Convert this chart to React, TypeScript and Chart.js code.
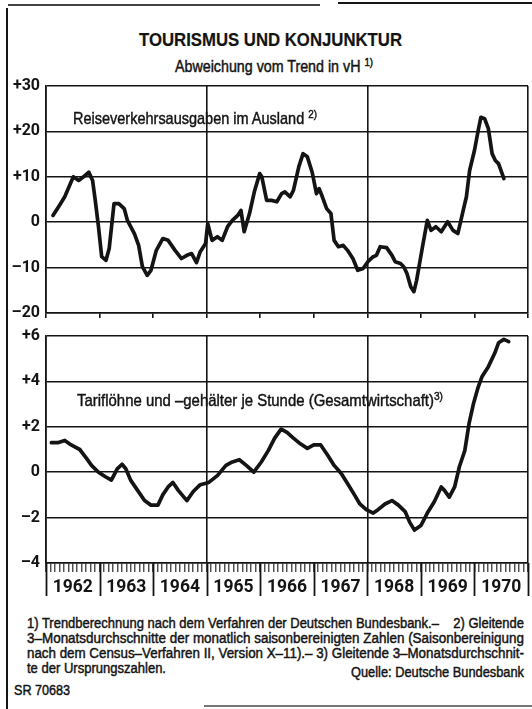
import React, { useEffect, useLayoutEffect, useRef } from "react";
import { Chart, registerables } from "chart.js";
Chart.register(...registerables);

// Reiseverkehrsausgaben im Ausland (Abweichung vom Trend in vH)
const spendingYears = [1962.13,1962.25,1962.35,1962.51,1962.61,1962.70,1962.80,1962.87,1962.92,1962.98,
  1963.04,1963.12,1963.18,1963.27,1963.36,1963.46,1963.52,1963.65,1963.73,1963.80,1963.89,1963.96,
  1964.06,1964.18,1964.28,1964.41,1964.53,1964.63,1964.72,1964.81,1964.88,1964.98,
  1965.02,1965.10,1965.20,1965.29,1965.39,1965.48,1965.58,1965.64,1965.70,1965.80,1965.89,1965.99,
  1966.03,1966.12,1966.21,1966.31,1966.40,1966.46,1966.56,1966.62,1966.72,1966.80,1966.88,1966.97,
  1967.05,1967.10,1967.16,1967.24,1967.32,1967.38,1967.46,1967.55,1967.63,1967.73,1967.82,1967.92,
  1968.01,1968.11,1968.17,1968.24,1968.36,1968.46,1968.52,1968.62,1968.68,1968.74,1968.81,1968.87,1968.92,
  1969.03,1969.12,1969.19,1969.28,1969.38,1969.50,1969.60,1969.69,1969.79,1969.85,1969.91,
  1970.00,1970.07,1970.12,1970.19,1970.26,1970.33,1970.39,1970.45,1970.55];
const spendingValues = [1.5,3.7,5.6,10.0,9.2,10,11,9.2,4.8,-1,
  -7.6,-8.4,-5.8,4.1,4.1,3,0.4,-2.5,-5.1,-9.8,-11.7,-10.6,
  -6.2,-3.6,-4,-6.2,-8,-7.3,-6.9,-8.9,-6.5,-4.7,
  -0.3,-4,-3.2,-4,-1,0.4,1.5,2.6,-2.1,1.9,6.7,10.7,
  10,4.8,4.8,4.5,6.3,6.7,5.6,7,12.2,15.1,14.4,11,
  6.3,7.4,5.6,3,1.9,-4,-5.4,-5.1,-6.2,-8,-10.6,-10.2,
  -8.7,-7.6,-7.3,-5.4,-5.6,-7.3,-8.7,-9.1,-9.8,-11.3,-14.2,-15.3,-12.8,
  -5.4,0.4,-1.8,-1,-2.1,0.1,-1.8,-2.5,2.6,5.6,11.4,
  15.8,20.2,23.1,22.8,20.6,15.1,13.6,12.9,9.6];

// Tariflöhne und -gehälter je Stunde (Gesamtwirtschaft)
const wageYears = [1962.10,1962.22,1962.35,1962.47,1962.63,1962.76,1962.85,1962.98,
  1963.11,1963.22,1963.33,1963.42,1963.49,1963.58,1963.71,1963.84,1963.96,
  1964.09,1964.18,1964.28,1964.37,1964.47,1964.63,1964.75,1964.88,
  1965.04,1965.20,1965.36,1965.48,1965.61,1965.74,1965.88,
  1966.02,1966.15,1966.27,1966.39,1966.50,1966.62,1966.75,1966.88,
  1967.00,1967.13,1967.26,1967.38,1967.51,1967.63,1967.76,1967.86,1967.98,
  1968.11,1968.20,1968.33,1968.46,1968.58,1968.71,1968.79,1968.88,
  1969.00,1969.12,1969.25,1969.38,1969.44,1969.53,1969.63,1969.72,1969.82,1969.90,1969.98,
  1970.07,1970.14,1970.26,1970.38,1970.45,1970.55,1970.64];
const wageValues = [1.3,1.3,1.4,1.2,1.0,0.6,0.3,0.0,
  -0.2,-0.35,0.15,0.35,0.15,-0.35,-0.8,-1.25,-1.45,
  -1.45,-1.0,-0.65,-0.45,-0.8,-1.25,-0.85,-0.55,
  -0.45,-0.15,0.3,0.45,0.55,0.3,0.0,
  0.45,0.95,1.5,1.9,1.75,1.5,1.25,1.05,
  1.2,1.2,0.75,0.3,-0.05,-0.5,-1.0,-1.4,-1.65,
  -1.8,-1.65,-1.4,-1.25,-1.45,-1.75,-2.2,-2.55,
  -2.35,-1.8,-1.3,-0.65,-0.8,-1.1,-0.65,0.25,0.95,2.15,3.0,
  3.75,4.2,4.65,5.25,5.7,5.85,5.75];

const yearLabels = ["1962","1963","1964","1965","1966","1967","1968","1969","1970"];
const yearBounds = [1962,1963,1964,1965,1966,1967,1968,1969,1970,1971];
const verticalGridYears = [1962,1965,1968,1971];
const topTicks = [-20,-10,0,10,20,30];
const bottomTicks = [-4,-2,0,2,4,6];

const INK = "#141414";
const TICKFONT = 'Roboto, "DejaVu Sans Condensed", sans-serif';
const SANS = '"Liberation Sans", Arial, sans-serif';
const CLEAR = "rgba(0,0,0,0)";

const fmt = (v: number) => (v > 0 ? "+" + v : v < 0 ? "\u2013" + Math.abs(v) : "0");
const pairs = (xs: number[], ys: number[]) => xs.map((x, i) => ({ x, y: ys[i] }));
const noPad = (s: any) => { s.paddingTop = 0; s.paddingBottom = 0; s.paddingLeft = 0; s.paddingRight = 0; };

function baseOptions(yTicks: number[]) {
  return {
    animation: false,
    responsive: false,
    maintainAspectRatio: false,
    devicePixelRatio: 1,
    events: [],
    plugins: { legend: { display: false }, tooltip: { enabled: false } },
    elements: {
      point: { radius: 0 },
      line: { tension: 0, borderWidth: 3.7, borderColor: INK, borderJoinStyle: "round", borderCapStyle: "round" },
    },
    scales: {
      y: {
        min: yTicks[0],
        max: yTicks[yTicks.length - 1],
        afterFit: (s: any) => { s.width = 46; noPad(s); },
        afterBuildTicks: (s: any) => { s.ticks = yTicks.map((v) => ({ value: v })); },
        ticks: { callback: (v: any) => fmt(Number(v)), color: INK, padding: 6, font: { family: TICKFONT, size: 16, weight: "bold" } },
        grid: { color: INK, lineWidth: 1.6, drawTicks: false },
        border: { color: INK, width: 1.6 },
      },
    } as any,
  } as any;
}

const separatorPlugin = {
  id: "yearSeparators",
  afterDraw(chart: any) {
    const xs = chart.scales.x;
    const b = chart.chartArea.bottom;
    const ctx = chart.ctx;
    ctx.save();
    ctx.strokeStyle = INK;
    ctx.lineWidth = 1.8;
    yearBounds.forEach((y) => {
      const px = Math.round(xs.getPixelForValue(y)) + 0.5;
      ctx.beginPath();
      ctx.moveTo(px, b);
      ctx.lineTo(px, b + 33);
      ctx.stroke();
    });
    ctx.restore();
  },
};

// text squeezed horizontally to a measured width (condensed print face)
function Fit(props: { left: number; cy: number; width: number; size: number; bold?: boolean; lh?: number; children: any }) {
  const ref = useRef<HTMLSpanElement>(null);
  const lh = props.lh ?? Math.round(props.size * 1.2);
  useLayoutEffect(() => {
    const fit = () => {
      const el = ref.current;
      if (!el) return;
      el.style.transform = "none";
      const w = el.getBoundingClientRect().width;
      if (w > 0) el.style.transform = `scaleX(${props.width / w})`;
    };
    fit();
    (document as any).fonts?.ready?.then(fit);
  }, []);
  return (
    <span
      ref={ref}
      style={{
        position: "absolute",
        left: props.left,
        top: props.cy - lh / 2,
        display: "inline-block",
        whiteSpace: "nowrap",
        transformOrigin: "0 0",
        fontFamily: SANS,
        fontSize: props.size,
        lineHeight: lh + "px",
        height: lh,
        fontWeight: props.bold ? "bold" : "normal",
        color: INK,
        WebkitTextStroke: props.bold ? "0.2px " + INK : "0.45px " + INK,
      }}
    >
      {props.children}
    </span>
  );
}

const Sup = (p: { children: any }) => (
  <span style={{ fontSize: "0.68em", position: "relative", top: "-0.55em" }}>{p.children}</span>
);

export default function App() {
  const topRef = useRef<HTMLCanvasElement>(null);
  const botRef = useRef<HTMLCanvasElement>(null);

  useEffect(() => {
    const o1 = baseOptions(topTicks);
    o1.layout = { padding: { top: 10, right: 4, left: 0, bottom: 0 } };
    o1.scales.x = {
      type: "linear",
      min: 1962,
      max: 1971,
      afterFit: (s: any) => { s.height = 12; noPad(s); },
      afterBuildTicks: (s: any) => { s.ticks = yearBounds.map((v) => ({ value: v })); },
      ticks: { display: false },
      grid: {
        color: (c: any) => (c.tick && verticalGridYears.includes(c.tick.value) ? INK : CLEAR),
        lineWidth: 1.6,
        drawTicks: true,
        tickLength: 5,
        tickColor: INK,
        tickWidth: 1.6,
      },
      border: { color: INK, width: 1.6 },
    };
    const c1 = new Chart(topRef.current!, {
      type: "line",
      data: { datasets: [{ data: pairs(spendingYears, spendingValues) }] },
      options: o1,
    });

    const monthly: number[] = [];
    for (let k = 0; k <= 108; k++) monthly.push(1962 + k / 12);
    const o2 = baseOptions(bottomTicks);
    o2.layout = { padding: { top: 10, right: 4, left: 0, bottom: 0 } };
    o2.scales.x = {
      type: "linear",
      min: 1962,
      max: 1971,
      afterFit: (s: any) => { s.height = 40; noPad(s); },
      afterBuildTicks: (s: any) => { s.ticks = monthly.map((v) => ({ value: v })); },
      ticks: {
        autoSkip: false,
        maxRotation: 0,
        minRotation: 0,
        padding: 5,
        color: INK,
        font: { family: TICKFONT, size: 17.5, weight: "bold" },
        callback: (_v: any, i: number) => (i % 12 === 6 ? yearLabels[Math.floor(i / 12)] : ""),
      },
      grid: {
        color: (c: any) => (c.index % 12 === 0 && verticalGridYears.includes(1962 + c.index / 12) ? INK : CLEAR),
        lineWidth: 1.6,
        drawTicks: true,
        tickLength: 9,
        tickColor: INK,
        tickWidth: 1.1,
      },
      border: { color: INK, width: 1.6 },
    };
    const c2 = new Chart(botRef.current!, {
      type: "line",
      data: { datasets: [{ data: pairs(wageYears, wageValues) }] },
      options: o2,
      plugins: [separatorPlugin],
    });

    return () => { c1.destroy(); c2.destroy(); };
  }, []);

  const box = (s: any): any => ({ position: "absolute", ...s });

  return (
    <div style={{ position: "absolute", left: 0, top: 0, width: 532, height: 709, background: "#fff", overflow: "hidden" }}>
      {/* scan frame */}
      <div style={box({ left: 6, top: 8, width: 2, height: 701, background: INK })} />
      <div style={box({ left: 8, top: 4, width: 312, height: 1.5, background: "#444" })} />
      <div style={box({ left: 338, top: 2, width: 194, height: 2, background: INK })} />
      <div style={box({ left: 204, top: 705, width: 328, height: 2, background: "#777" })} />

      <canvas ref={topRef} width={532} height={249} style={{ position: "absolute", left: 0, top: 76, width: 532, height: 249 }} />
      <canvas ref={botRef} width={532} height={277} style={{ position: "absolute", left: 0, top: 326, width: 532, height: 277 }} />

      <Fit left={139} cy={40} width={263} size={18} bold>TOURISMUS UND KONJUNKTUR</Fit>
      <Fit left={175} cy={66} width={198} size={16}>Abweichung vom Trend in vH <Sup>1)</Sup></Fit>
      <Fit left={73} cy={119} width={244} size={17}>Reiseverkehrsausgaben im Ausland <Sup>2)</Sup></Fit>
      <Fit left={77} cy={401} width={366} size={17}>Tariflöhne und –gehälter je Stunde (Gesamtwirtschaft)<Sup>3)</Sup></Fit>

      <Fit left={27} cy={623} width={497} size={14} lh={15}>1) Trendberechnung nach dem Verfahren der Deutschen Bundesbank.–&nbsp;&nbsp;&nbsp; 2) Gleitende</Fit>
      <Fit left={27} cy={638} width={497} size={14} lh={15}>3–Monatsdurchschnitte der monatlich saisonbereinigten Zahlen (Saisonbereinigung</Fit>
      <Fit left={27} cy={653} width={497} size={14} lh={15}>nach dem Census–Verfahren II, Version X–11).– 3) Gleitende 3–Monatsdurchschnit-</Fit>
      <Fit left={27} cy={668} width={139} size={14} lh={15}>te der Ursprungszahlen.</Fit>
      <Fit left={351} cy={672} width={173} size={14} lh={15}>Quelle: Deutsche Bundesbank</Fit>
      <Fit left={14} cy={690} width={56} size={14} lh={15}>SR 70683</Fit>
    </div>
  );
}
